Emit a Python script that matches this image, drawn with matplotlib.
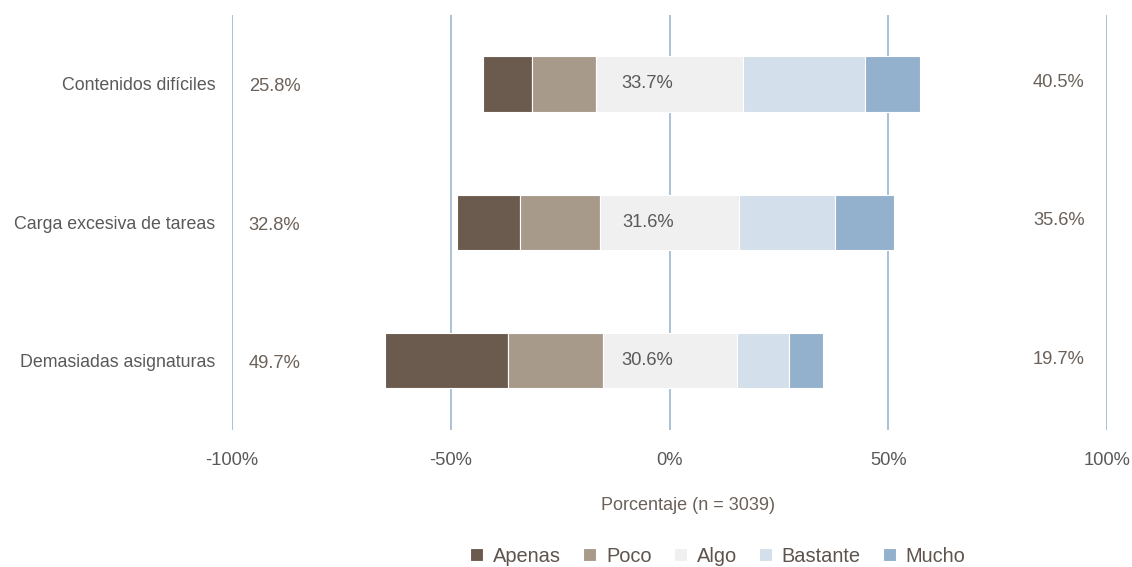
import matplotlib.pyplot as plt
import numpy as np

plt.rcParams['font.family'] = ['Liberation Sans', 'DejaVu Sans']

categories = ['Contenidos difíciles', 'Carga excesiva de tareas', 'Demasiadas asignaturas']
apenas = [11.2, 14.3, 28.0]
poco = [14.6, 18.5, 21.7]
algo = [33.7, 31.6, 30.6]
bastante = [27.8, 21.9, 12.0]
mucho = [12.7, 13.7, 7.7]
left_labels = ['25.8%', '32.8%', '49.7%']
right_labels = ['40.5%', '35.6%', '19.7%']
series_names = ['Apenas', 'Poco', 'Algo', 'Bastante', 'Mucho']
colors = ['#6b5b4e', '#a89a8b', '#f0f0f0', '#d3dfea', '#93b0cc']

apenas = np.array(apenas)
poco = np.array(poco)
algo = np.array(algo)
bastante = np.array(bastante)
mucho = np.array(mucho)

fig = plt.figure(figsize=(11.32, 5.67), dpi=100)
ax = fig.add_axes([0.205, 0.242, 0.773, 0.732])

y = np.arange(len(categories))
h = 0.4
starts = [-(algo / 2 + poco + apenas), -(algo / 2 + poco), -algo / 2, algo / 2, algo / 2 + bastante]
widths = [apenas, poco, algo, bastante, mucho]
for s, w, c, name in zip(starts, widths, colors, series_names):
    ax.barh(y, w, h, left=s, color=c, edgecolor='white', linewidth=0.8, label=name, zorder=3)

for xv in [-100, -50, 0, 50, 100]:
    ax.axvline(xv, color='#9bb6d0', linewidth=1.2, zorder=1)

txt = '#6b6159'
fs = 13.2
for i in range(len(categories)):
    ax.text(-90.3, y[i] + 0.02, left_labels[i], ha='center', va='center', fontsize=fs, color=txt)
    ax.text(89, y[i] - 0.01, right_labels[i], ha='center', va='center', fontsize=fs, color=txt)
    ax.text(-5, y[i], '%.1f%%' % algo[i], ha='center', va='center', fontsize=fs, color='#595959', zorder=4)

ax.set_xlim(-100, 100)
ax.set_ylim(2.5, -0.5)
ax.set_yticks(y)
ax.set_yticklabels(categories, fontsize=12.8, color='#595959')
ax.set_xticks([-100, -50, 0, 50, 100])
ax.set_xticklabels(['-100%', '-50%', '0%', '50%', '100%'], fontsize=fs, color='#595959')
ax.tick_params(axis='x', length=0, pad=16)
ax.tick_params(axis='y', length=0, pad=12)
for sp in ax.spines.values():
    sp.set_visible(False)

fig.text(0.608, 1 - 505 / 567, 'Porcentaje (n = 3039)', ha='center', va='center', fontsize=13, color=txt)

handles, labels = ax.get_legend_handles_labels()
fig.legend(handles, labels, loc='center', bbox_to_anchor=(0.634, 1 - 556 / 567), ncol=5, frameon=False,
           fontsize=14.4, handlelength=0.65, handleheight=0.65, handletextpad=0.5, columnspacing=1.1,
           labelcolor='#5e544d')

plt.savefig('out.png', dpi=100)
